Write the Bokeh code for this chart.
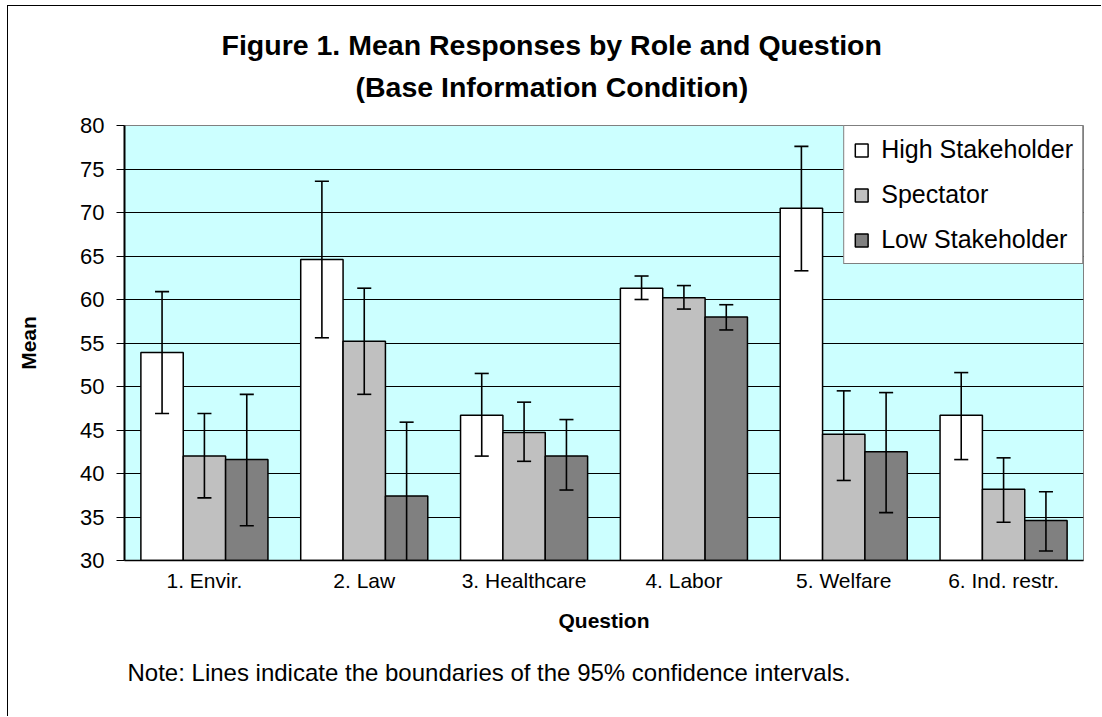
from bokeh.plotting import figure
from bokeh.models import (FactorRange, Range1d, FixedTicker, ColumnDataSource, Legend,
                          LegendItem, Title)
from bokeh.transform import dodge
from bokeh.embed import file_html
from bokeh.resources import INLINE

# ---------------- data ----------------
questions = ["1. Envir.", "2. Law", "3. Healthcare", "4. Labor", "5. Welfare", "6. Ind. restr."]
roles = ["High Stakeholder", "Spectator", "Low Stakeholder"]

high_mean = [53.9, 64.6, 46.7, 61.3, 70.5, 46.7]
high_lower = [46.9, 55.6, 42.0, 60.0, 63.3, 41.6]
high_upper = [60.9, 73.6, 51.5, 62.7, 77.6, 51.6]

spec_mean = [42.0, 55.2, 44.7, 60.2, 44.5, 38.2]
spec_lower = [37.2, 49.1, 41.4, 58.9, 39.2, 34.4]
spec_upper = [46.9, 61.3, 48.2, 61.6, 49.5, 41.8]

low_mean = [41.6, 37.4, 42.0, 58.0, 42.5, 34.6]
low_lower = [34.0, 29.0, 38.1, 56.5, 35.5, 31.1]
low_upper = [49.1, 45.9, 46.2, 59.4, 49.3, 37.9]

y_ticks = [30, 35, 40, 45, 50, 55, 60, 65, 70, 75, 80]
y_min, y_max = 30, 80

title_line1 = "Figure 1. Mean Responses by Role and Question"
title_line2 = "(Base Information Condition)"
note_text = "Note: Lines indicate the boundaries of the 95% confidence intervals."

# ---------------- styles ----------------
FONT = "Liberation Sans"
fills = ["#FFFFFF", "#C0C0C0", "#808080"]
offsets = [-0.265, 0.0, 0.265]
bar_w = 0.265
cap = 0.044

p = figure(x_range=FactorRange(*questions), y_range=Range1d(y_min, y_max),
           width=1094, height=711, output_backend="svg", toolbar_location=None,
           min_border_left=116, min_border_right=19, min_border_top=119, min_border_bottom=157,
           styles={"margin-left": "7px", "margin-top": "5px",
                   "border-left": "1px solid black", "border-top": "1px solid black"})
p.background_fill_color = "#CCFFFF"
p.border_fill_color = "white"
p.outline_line_color = "#808080"
p.outline_line_width = 1

series = [(high_mean, high_lower, high_upper),
          (spec_mean, spec_lower, spec_upper),
          (low_mean, low_lower, low_upper)]

items = []
for (m, lo, up), off, fc, role in zip(series, offsets, fills, roles):
    src = ColumnDataSource(dict(q=questions, mean=m, lower=lo, upper=up))
    r = p.vbar(x=dodge("q", off, range=p.x_range), top="mean", bottom=y_min, width=bar_w,
               source=src, fill_color=fc, line_color="black", line_width=1.5)
    p.segment(x0=dodge("q", off, range=p.x_range), y0="lower",
              x1=dodge("q", off, range=p.x_range), y1="upper",
              source=src, line_color="black", line_width=1.6)
    for end in ("lower", "upper"):
        p.segment(x0=dodge("q", off - cap, range=p.x_range), y0=end,
                  x1=dodge("q", off + cap, range=p.x_range), y1=end,
                  source=src, line_color="black", line_width=1.6)
    items.append(LegendItem(label=role, renderers=[r]))

legend = Legend(items=items, location="top_right", margin=0, padding=9, spacing=16,
                glyph_width=16, glyph_height=16, label_standoff=12,
                label_text_font=FONT, label_text_font_size="25px", label_text_color="black",
                border_line_color="black", border_line_width=1,
                background_fill_color="white", background_fill_alpha=1.0)
p.add_layout(legend)

# axes
p.xgrid.visible = False
p.ygrid.grid_line_color = "black"
p.ygrid.grid_line_width = 1
p.yaxis.ticker = FixedTicker(ticks=y_ticks)
p.yaxis.minor_tick_line_color = None
p.yaxis.major_tick_out = 8
p.yaxis.major_tick_in = 0
p.yaxis.major_tick_line_color = "black"
p.yaxis.axis_line_color = "black"
p.yaxis.axis_line_width = 2
p.yaxis.major_label_standoff = 12
p.yaxis.major_label_text_font = FONT
p.yaxis.major_label_text_font_size = "22px"
p.yaxis.major_label_text_color = "black"
p.yaxis.axis_label = "Mean"
p.yaxis.axis_label_text_font = FONT
p.yaxis.axis_label_text_font_size = "21px"
p.yaxis.axis_label_text_font_style = "bold"
p.yaxis.axis_label_text_color = "black"
p.yaxis.axis_label_standoff = 37

p.xaxis.major_tick_line_color = None
p.xaxis.minor_tick_line_color = None
p.xaxis.major_tick_out = 0
p.xaxis.major_tick_in = 0
p.xaxis.axis_line_color = "black"
p.xaxis.axis_line_width = 1.5
p.xaxis.major_label_standoff = 8
p.xaxis.major_label_text_font = FONT
p.xaxis.major_label_text_font_size = "21px"
p.xaxis.major_label_text_color = "black"
p.xaxis.axis_label = "Question"
p.xaxis.axis_label_text_font = FONT
p.xaxis.axis_label_text_font_size = "21px"
p.xaxis.axis_label_text_font_style = "bold"
p.xaxis.axis_label_text_color = "black"
p.xaxis.axis_label_standoff = 14

# title panels: spacer nearest the frame, then line 2, then line 1
spacer = Title(text=" ", align="left", text_font=FONT, text_font_size="10px", standoff=6)
t2 = Title(text=title_line2, align="left", offset=231, text_font=FONT, text_font_size="28.5px",
           text_font_style="bold", text_color="black", standoff=8)
t1 = Title(text=title_line1, align="left", offset=97, text_font=FONT, text_font_size="28.5px",
           text_font_style="bold", text_color="black", standoff=8)
p.add_layout(spacer, "above")
p.add_layout(t2, "above")
p.add_layout(t1, "above")

note = Title(text=note_text, align="left", offset=3, text_font=FONT, text_font_size="24px",
             text_font_style="normal", text_color="black", standoff=44)
p.add_layout(note, "below")

open("out.html", "w").write(file_html(p, INLINE))
